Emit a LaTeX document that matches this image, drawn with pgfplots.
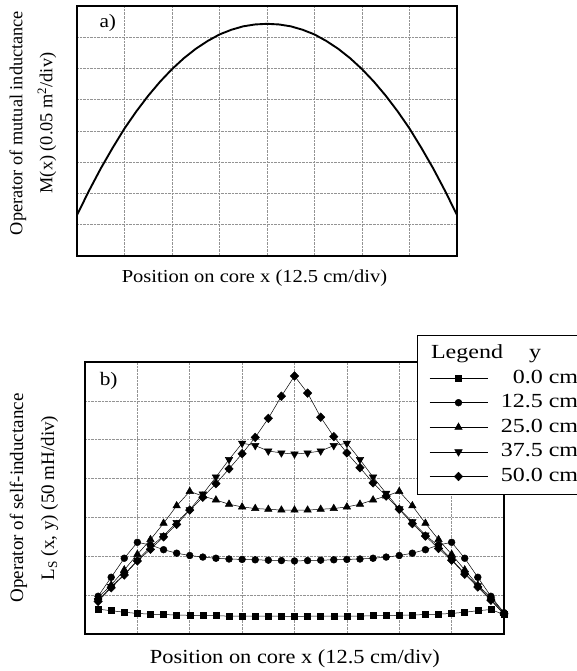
\documentclass[border=0pt]{standalone}
\usepackage{pgfplots}
\pgfplotsset{compat=1.18}
\usepackage{fontspec}
\setmainfont{Liberation Serif}
\newfontfamily\sfont{Liberation Serif}[FakeStretch=1.12]
\newfontfamily\legfont{Liberation Serif}[FakeStretch=1.2]

\pgfplotstableread{
x y
0 1.31
0.25 2.08
0.5 2.80
0.75 3.46
1 4.08
1.25 4.63
1.5 5.13
1.75 5.58
2 5.98
2.25 6.33
2.5 6.63
2.75 6.88
3 7.09
3.25 7.24
3.5 7.35
3.75 7.41
4 7.43
4.25 7.41
4.5 7.35
4.75 7.24
5 7.09
5.25 6.88
5.5 6.63
5.75 6.33
6 5.98
6.25 5.58
6.5 5.13
6.75 4.63
7 4.08
7.25 3.46
7.5 2.80
7.75 2.08
8 1.31
}\mutual

\pgfplotstableread{
x s0 s125 s25 s375 s50
0.25 0.64 0.97 0.94 0.86 0.84
0.5 0.60 1.46 1.26 1.22 1.19
0.75 0.56 1.95 1.65 1.53 1.52
1.0 0.53 2.36 2.05 1.90 1.88
1.25 0.51 2.29 2.43 2.24 2.18
1.5 0.50 2.17 2.85 2.53 2.50
1.75 0.49 2.08 3.30 2.87 2.82
2.0 0.48 2.02 3.67 3.20 3.19
2.25 0.47 1.98 3.55 3.60 3.52
2.5 0.47 1.95 3.45 4.04 3.87
2.75 0.46 1.93 3.34 4.49 4.25
3.0 0.46 1.92 3.27 4.91 4.64
3.25 0.46 1.91 3.23 4.85 5.06
3.5 0.46 1.90 3.21 4.71 5.55
3.75 0.46 1.89 3.19 4.66 6.12
4.0 0.45 1.88 3.19 4.63 6.64
4.25 0.46 1.89 3.19 4.66 6.20
4.5 0.46 1.90 3.21 4.71 5.58
4.75 0.46 1.91 3.23 4.85 5.08
5.0 0.46 1.92 3.27 4.91 4.66
5.25 0.46 1.93 3.34 4.49 4.28
5.5 0.47 1.95 3.45 4.04 3.89
5.75 0.47 1.98 3.55 3.62 3.55
6.0 0.48 2.02 3.67 3.22 3.21
6.25 0.49 2.08 3.30 2.89 2.84
6.5 0.50 2.17 2.85 2.55 2.52
6.75 0.51 2.29 2.43 2.26 2.20
7.0 0.53 2.36 2.05 1.92 1.90
7.25 0.56 1.95 1.65 1.56 1.54
7.5 0.60 1.46 1.26 1.24 1.21
7.75 0.63 0.97 0.94 0.88 0.87
8.0 0.50 0.55 0.53 0.50 0.52
}\selfind

\begin{document}
\begin{tikzpicture}
\pgfplotsset{
  myaxis/.style={
    scale only axis,
    xmin=0, xmax=8, ymin=0,
    xtick={0,...,8},
    xticklabels={}, yticklabels={},
    major tick length=0pt,
    grid=major,
    grid style={gray!85, densely dotted, line width=0.7bp},
    axis line style={line width=1.2bp},
  }
}
% ---- a) ----
\begin{axis}[myaxis,
  at={(77bp,-256bp)}, anchor=south west,
  width=380bp, height=250bp,
  ymax=8, ytick={0,...,8},
  xlabel={Position on core x (12.5 cm/div)},
  xlabel style={font=\sfont\fontsize{18.3bp}{22bp}\selectfont, at={(axis description cs:0.467,-0.088)}, anchor=center},
  ylabel={Operator of mutual inductance\\M(x) (0.05 m\textsuperscript{2}/div)},
  ylabel style={align=center, font=\fontsize{18.3bp}{30bp}\selectfont, at={(axis description cs:-0.1158,0.532)}, anchor=center},
]
\addplot[black, line width=1.9bp] table[x=x, y=y] {\mutual};
\node[anchor=west, font=\sfont\fontsize{19bp}{22bp}\selectfont] at (rel axis cs:0.05,0.932) {a)};
\end{axis}
% ---- b) ----
\begin{axis}[myaxis,
  at={(85bp,-634bp)}, anchor=south west,
  width=419bp, height=272bp,
  ymax=7, ytick={0,...,7},
  xlabel={Position on core x (12.5 cm/div)},
  xlabel style={font=\sfont\fontsize{20bp}{22bp}\selectfont, at={(axis description cs:0.501,-0.092)}, anchor=center},
  ylabel={Operator of self-inductance\\L\textsubscript{S} (x, y) (50 mH/div)},
  ylabel style={align=center, font=\fontsize{19bp}{31bp}\selectfont, at={(axis description cs:-0.1217,0.5)}, anchor=center},
  clip=false,
  legend cell align=right,
  legend image code/.code={\draw[mark repeat=2,mark phase=2] plot coordinates {(0bp,0bp) (29bp,0bp) (58bp,0bp)};},
  legend style={at={(rel axis cs:0.792,1.099)}, anchor=north west,
    draw=black, line width=0.8bp, fill=white,
    inner xsep=12bp, inner ysep=9bp,
    font=\legfont\fontsize{20bp}{20bp}\selectfont,
    nodes={inner sep=0pt, text height=14bp, text depth=4bp},
    row sep=6.6bp, column sep=13bp},
  every axis plot/.append style={black, line width=0.5bp},
]
\addlegendimage{empty legend}
\addlegendentry{\makebox[77bp][l]{\hspace{-70bp}Legend\hspace{26bp}y}}
\addplot[mark=square*, mark size=3bp, mark options={solid}] table[x=x, y=s0] {\selfind};
\addlegendentry{0.0 cm}
\addplot[mark=*, mark size=3.4bp, mark options={solid}] table[x=x, y=s125] {\selfind};
\addlegendentry{12.5 cm}
\addplot[mark=triangle*, mark size=4.3bp, mark options={solid}] table[x=x, y=s25] {\selfind};
\addlegendentry{25.0 cm}
\addplot[mark=triangle*, mark size=4.3bp, mark options={solid, rotate=180}] table[x=x, y=s375] {\selfind};
\addlegendentry{37.5 cm}
\addplot[mark=diamond*, mark size=4.3bp, mark options={solid, xscale=1.3}] table[x=x, y=s50] {\selfind};
\addlegendentry{50.0 cm}
\node[anchor=west, font=\sfont\fontsize{19bp}{22bp}\selectfont] at (rel axis cs:0.027,0.93) {b)};
\end{axis}
\pgfresetboundingbox
\path[use as bounding box] (0bp,0bp) rectangle (577bp,-671bp);
\end{tikzpicture}
\end{document}
